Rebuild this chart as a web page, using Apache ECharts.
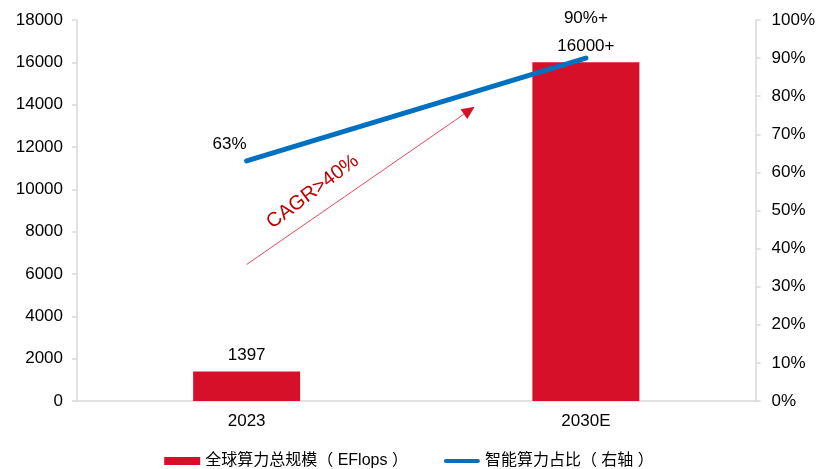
<!DOCTYPE html>
<html>
<head>
<meta charset="utf-8">
<script src="https://cdn.jsdelivr.net/npm/echarts@6/dist/echarts.min.js"></script>
<style>
  html, body { margin: 0; padding: 0; background: #fff; }
  #chart { width: 818px; height: 469px; }
</style>
</head>
<body>
<div id="chart"></div>
<script>
// Categories and series values
const categories = ['2023', '2030E'];
const computeTotal = [1397, 16000];          // 全球算力总规模（EFlops）
const computeTotalSuffix = ['', '+'];
const aiShare = [63, 90];                    // 智能算力占比（%）
const aiShareSuffix = ['', '+'];
const leftTicks = { min: 0, max: 18000, interval: 2000 };
const rightTicks = { min: 0, max: 100, interval: 10 };
const cagrText = 'CAGR>40%';
const barName = '全球算力总规模（ EFlops ）';
const lineName = '智能算力占比（ 右轴 ）';

const FONT = 'Liberation Sans, Arial, Noto Sans CJK SC, sans-serif';
const RED = '#D7102A';
const BLUE = '#0070C0';
const AXIS = '#D9D9D9';
const FS = 17;

const chart = echarts.init(document.getElementById('chart'));

const option = {
  animation: false,
  textStyle: { fontFamily: FONT },
  grid: { left: 77, right: 61, top: 20, bottom: 68, containLabel: false },
  legend: {
    bottom: -5,
    left: 'center',
    itemGap: 36,
    itemWidth: 36,
    itemHeight: 8,
    textStyle: { fontSize: 16, color: '#000', fontFamily: FONT },
    data: [
      { name: barName, icon: 'rect' },
      { name: lineName, icon: 'path://M2,0 L34,0 A2,2 0 0 1 34,4 L2,4 A2,2 0 0 1 2,0 Z', itemStyle: { color: BLUE } }
    ]
  },
  xAxis: {
    type: 'category',
    data: categories,
    axisLine: { lineStyle: { color: AXIS, width: 1.5 } },
    axisTick: { show: false },
    axisLabel: { color: '#000', fontSize: FS, margin: 12 }
  },
  yAxis: [
    {
      type: 'value',
      min: leftTicks.min, max: leftTicks.max, interval: leftTicks.interval,
      axisLine: { show: true, lineStyle: { color: AXIS, width: 1.5 } },
      axisTick: { show: true, length: 5, lineStyle: { color: AXIS, width: 1.5 } },
      splitLine: { show: false },
      axisLabel: { color: '#000', fontSize: FS, margin: 14, formatter: v => String(v) }
    },
    {
      type: 'value',
      position: 'right',
      min: rightTicks.min, max: rightTicks.max, interval: rightTicks.interval,
      axisLine: { show: true, lineStyle: { color: AXIS, width: 1.5 } },
      axisTick: { show: true, length: 5, lineStyle: { color: AXIS, width: 1.5 } },
      splitLine: { show: false },
      axisLabel: { color: '#000', fontSize: FS, margin: 16, formatter: '{value}%' }
    }
  ],
  series: [
    {
      name: barName,
      type: 'bar',
      yAxisIndex: 0,
      barWidth: 107,
      data: computeTotal,
      itemStyle: { color: RED },
      label: {
        show: true,
        position: 'top',
        distance: 8,
        color: '#000',
        fontSize: FS,
        formatter: p => p.value + computeTotalSuffix[p.dataIndex]
      }
    },
    {
      name: lineName,
      type: 'line',
      yAxisIndex: 1,
      data: aiShare.map((v, i) => ({
        value: v,
        label: i === 0 ? { distance: 8, offset: [-17, 0] } : { distance: 31, offset: [0, 0] }
      })),
      symbol: 'circle',
      symbolSize: 0.01,
      showSymbol: true,
      lineStyle: { color: BLUE, width: 5, cap: 'round' },
      itemStyle: { color: BLUE },
      z: 5,
      label: {
        show: true,
        position: 'top',
        color: '#000',
        fontSize: FS,
        formatter: p => p.value + '%' + aiShareSuffix[p.dataIndex]
      }
    }
  ]
};

chart.setOption(option);

// Growth arrow with CAGR note, placed in data space between the two categories
const p0 = chart.convertToPixel({ xAxisIndex: 0, yAxisIndex: 0 }, [categories[0], 6450]);
const p1 = chart.convertToPixel({ xAxisIndex: 0, yAxisIndex: 0 }, [categories[1], 13900]);
const t = 0.672;
const x0 = p0[0], y0 = p0[1];
const x1 = p0[0] + (p1[0] - p0[0]) * t, y1 = p1[1];
const ang = Math.atan2(y1 - y0, x1 - x0);
const headLen = 13, headHalf = 6;
const bx = x1 - headLen * Math.cos(ang), by = y1 - headLen * Math.sin(ang);
const nx = -Math.sin(ang), ny = Math.cos(ang);

chart.setOption({
  graphic: [
    {
      type: 'line',
      shape: { x1: x0, y1: y0, x2: bx, y2: by },
      style: { stroke: '#E84A5C', lineWidth: 1 },
      z: 3
    },
    {
      type: 'polygon',
      shape: { points: [[x1, y1], [bx + nx * headHalf, by + ny * headHalf], [bx - nx * headHalf, by - ny * headHalf]] },
      style: { fill: RED },
      z: 3
    },
    {
      type: 'text',
      x: x0 + (x1 - x0) * 0.29,
      y: y0 + (y1 - y0) * 0.29 - 27,
      rotation: 37 * Math.PI / 180,
      style: {
        text: cagrText,
        fill: '#C00000',
        font: '20px ' + FONT,
        align: 'center',
        verticalAlign: 'middle'
      },
      z: 4
    }
  ]
});
</script>
</body>
</html>
